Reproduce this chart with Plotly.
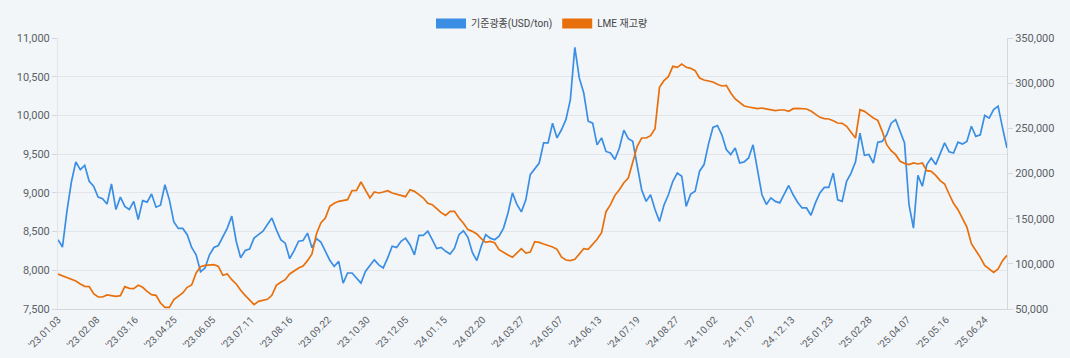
import plotly.graph_objects as go

# x tick labels (every 26 LME trading days)
tick_labels = ["'23.01.03", "'23.02.08", "'23.03.16", "'23.04.25", "'23.06.05", "'23.07.11",
               "'23.08.16", "'23.09.22", "'23.10.30", "'23.12.05", "'24.01.15", "'24.02.20",
               "'24.03.27", "'24.05.07", "'24.06.13", "'24.07.19", "'24.08.27", "'24.10.02",
               "'24.11.07", "'24.12.13", "'25.01.23", "'25.02.28", "'25.04.07", "'25.05.16",
               "'25.06.24"]
TICK_EVERY = 26
SAMPLE_STEP = 3   # values are read every 3rd trading day
N_DAYS = 640

price = [
    8395, 8300, 8760, 9140, 9400, 9300, 9355, 9150, 9085, 8945,
    8925, 8855, 9115, 8785, 8945, 8825, 8785, 8890, 8655, 8900,
    8880, 8985, 8815, 8840, 9105, 8910, 8625, 8540, 8540, 8460,
    8295, 8200, 7980, 8030, 8200, 8295, 8320, 8440, 8545, 8700,
    8375, 8160, 8255, 8275, 8415, 8460, 8505, 8590, 8675, 8525,
    8395, 8350, 8150, 8255, 8375, 8385, 8480, 8290, 8410, 8365,
    8245, 8130, 8050, 8115, 7835, 7965, 7965, 7900, 7835, 7985,
    8060, 8135, 8070, 8030, 8160, 8310, 8295, 8375, 8415, 8330,
    8200, 8450, 8450, 8505, 8395, 8280, 8295, 8245, 8210, 8285,
    8460, 8510, 8425, 8230, 8125, 8310, 8460, 8415, 8395, 8440,
    8545, 8740, 9000, 8850, 8755, 8910, 9235, 9310, 9385, 9645,
    9645, 9900, 9710, 9815, 9945, 10205, 10880, 10485, 10290, 9925,
    9900, 9620, 9710, 9535, 9515, 9430, 9580, 9810, 9700, 9665,
    9365, 9040, 8890, 8975, 8785, 8630, 8840, 8975, 9150, 9255,
    9215, 8825, 8985, 9020, 9280, 9365, 9630, 9845, 9870, 9750,
    9560, 9495, 9580, 9385, 9400, 9450, 9620, 9320, 8975, 8850,
    8935, 8890, 8870, 8985, 9095, 8975, 8880, 8805, 8805, 8710,
    8870, 9000, 9070, 9070, 9255, 8910, 8890, 9150, 9255, 9400,
    9770, 9485, 9495, 9385, 9655, 9665, 9750, 9900, 9945, 9795,
    9645, 8850, 8545, 9225, 9085, 9365, 9450, 9365, 9495, 9645,
    9530, 9515, 9655, 9630, 9665, 9860, 9730, 9750, 10000, 9965,
    10075, 10120, 9840, 9580,
]

stock = [
    88750, 86900, 84690, 83580, 81000, 77680, 75100, 74730, 66980, 63290,
    63290, 65500, 65130, 64030, 64760, 74730, 72880, 72510, 76200, 73990,
    69560, 65870, 65130, 56640, 51850, 51850, 60330, 63660, 67720, 73990,
    76570, 89860, 96870, 98340, 99080, 99080, 97230, 87270, 88750, 82480,
    77680, 70670, 65130, 59970, 54800, 58490, 59970, 60700, 65130, 76200,
    79520, 82480, 88750, 92440, 95390, 97600, 103510, 110890, 133030, 145200,
    150740, 163650, 166980, 169190, 169930, 171040, 181000, 181370, 190590, 181000,
    172880, 179520, 178420, 179520, 181000, 178420, 176940, 175460, 174360, 182100,
    180260, 176570, 172880, 166980, 165500, 161070, 156640, 153690, 158120, 158120,
    150740, 145000, 137830, 135980, 133030, 127860, 123800, 124910, 123430, 115690,
    112360, 109780, 107200, 112000, 116790, 112000, 113100, 124540, 123800, 121960,
    120480, 118640, 116050, 107570, 104250, 103510, 104980, 110890, 116790, 116050,
    121960, 127120, 134500, 157750, 165500, 175830, 182100, 189850, 195020, 213470,
    230080, 239300, 239300, 241880, 249630, 295390, 302770, 307200, 318640, 317530,
    321220, 317530, 316420, 313840, 305720, 303510, 302400, 301290, 298710, 296860,
    297600, 289120, 282470, 278410, 274720, 273620, 272880, 271770, 272510, 271770,
    271030, 269560, 270300, 270300, 268820, 271770, 272140, 271770, 271400, 269190,
    265500, 262180, 260700, 260330, 258490, 255900, 255540, 252220, 245570, 239300,
    270670, 268820, 265130, 261440, 258860, 246680, 231920, 225280, 220850, 213470,
    211260, 209780, 211620, 210520, 211620, 203140, 202400, 197970, 192070, 188380,
    177310, 166980, 159970, 150000, 140780, 122330, 115320, 107200, 98340, 94280,
    90590, 94280, 103510, 109410,
]

name_price = "기준광종(USD/ton)"
name_stock = "LME 재고량"
BLUE = "#3a8ee4"
ORANGE = "#e8700c"

x_idx = [k * SAMPLE_STEP for k in range(len(price))]
tick_pos = [k * TICK_EVERY for k in range(len(tick_labels))]

fig = go.Figure()
fig.add_trace(go.Scatter(x=x_idx, y=price, mode="lines", name=name_price,
                         line=dict(color=BLUE, width=1.7), showlegend=False))
fig.add_trace(go.Scatter(x=x_idx, y=stock, mode="lines", name=name_stock, yaxis="y2",
                         line=dict(color=ORANGE, width=1.7), showlegend=False))
# legend swatches (rectangles)
fig.add_trace(go.Scatter(x=[None], y=[None], mode="lines", name=name_price,
                         line=dict(color=BLUE, width=10)))
fig.add_trace(go.Scatter(x=[None], y=[None], mode="lines", name=name_stock, yaxis="y2",
                         line=dict(color=ORANGE, width=10)))

BG = "#f3f6f9"
GRID = "#e2e6eb"
TXT = "#5a5f66"
fig.update_layout(
    width=1070, height=358,
    margin=dict(l=58, r=63, t=38, b=49, autoexpand=False),
    paper_bgcolor=BG, plot_bgcolor=BG,
    font=dict(family="Roboto, 'Noto Sans CJK KR', sans-serif", size=11, color=TXT),
    legend=dict(orientation="h", x=0.51, xanchor="center", y=1.0, yanchor="bottom",
                font=dict(size=10, color="#444"), itemwidth=30, bgcolor="rgba(0,0,0,0)"),
    xaxis=dict(range=[0, N_DAYS - 1], tickmode="array", tickvals=tick_pos, ticktext=tick_labels,
               tickangle=-45, tickfont=dict(size=10, color=TXT), showgrid=False,
               showline=True, linecolor="#d3d8de", ticks="", zeroline=False, automargin=False),
    yaxis=dict(range=[7500, 11000], dtick=500, tickformat=",", gridcolor=GRID,
               showline=True, linecolor="#e2e6eb", ticks="outside", ticklen=5,
               tickcolor="#d3d8de", zeroline=False, tickfont=dict(size=11, color=TXT),
               automargin=False),
    yaxis2=dict(range=[50000, 350000], dtick=50000, tickformat=",", overlaying="y",
                side="right", showgrid=False, showline=True, linecolor="#d3d8de",
                ticks="outside", ticklen=5, tickcolor="#d3d8de", zeroline=False,
                tickfont=dict(size=11, color=TXT), automargin=False),
)

fig.write_html(
    "out.html",
    config={"displayModeBar": False},
    post_script="document.body.style.margin='0';document.body.style.overflow='hidden';"
                "document.body.style.background='" + BG + "';",
)
